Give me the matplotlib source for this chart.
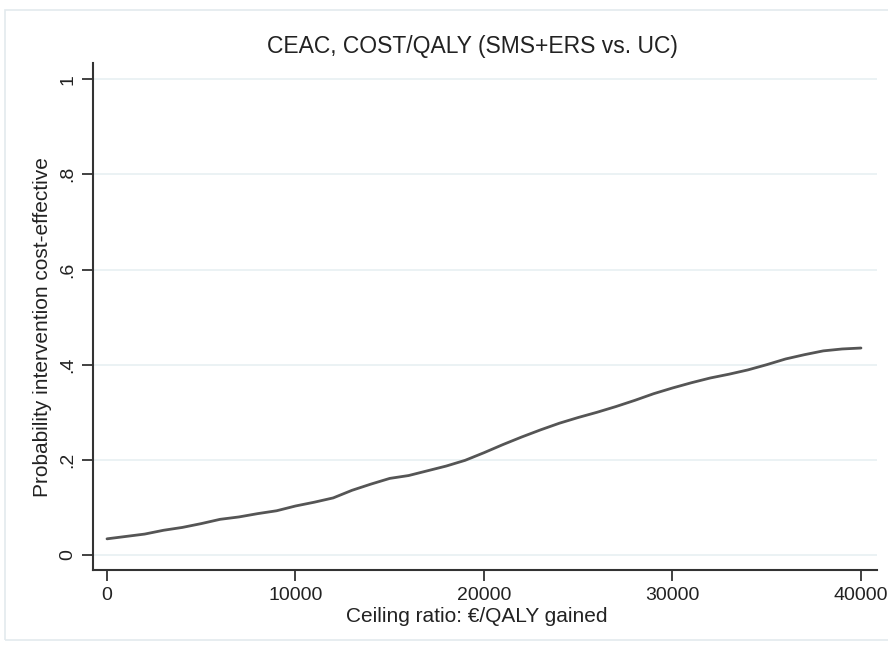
import matplotlib
matplotlib.use("Agg")
import matplotlib.pyplot as plt
from matplotlib.patches import Rectangle

plt.rcParams['font.family'] = ['Liberation Sans', 'DejaVu Sans']

# Ceiling ratio (EUR per QALY) and probability the intervention is cost-effective
ceiling = [0, 1000, 2000, 3000, 4000, 5000, 6000, 7000, 8000, 9000, 10000,
           11000, 12000, 13000, 14000, 15000, 16000, 17000, 18000, 19000, 20000,
           21000, 22000, 23000, 24000, 25000, 26000, 27000, 28000, 29000, 30000,
           31000, 32000, 33000, 34000, 35000, 36000, 37000, 38000, 39000, 40000]
prob = [0.034, 0.039, 0.044, 0.052, 0.058, 0.066, 0.075, 0.080, 0.087, 0.093, 0.103,
        0.111, 0.120, 0.136, 0.149, 0.161, 0.167, 0.177, 0.187, 0.199, 0.215,
        0.232, 0.248, 0.263, 0.277, 0.289, 0.300, 0.312, 0.325, 0.339, 0.351,
        0.362, 0.372, 0.380, 0.389, 0.400, 0.412, 0.421, 0.429, 0.433, 0.435]

x_ticks = [0, 10000, 20000, 30000, 40000]
y_ticks = [0, 0.2, 0.4, 0.6, 0.8, 1.0]
y_tick_labels = ['0', '.2', '.4', '.6', '.8', '1']

W, H = 888, 653
fig = plt.figure(figsize=(W / 100, H / 100), dpi=100)
fig.patch.set_facecolor('white')

# light outer frame around the graph region
fig.patches.append(Rectangle((5 / W, 13 / H), 1.0, 630 / H,
                             transform=fig.transFigure, fill=False,
                             edgecolor='#e3eaed', linewidth=1.2))

ax = fig.add_axes([93 / W, 1 - 570 / H, (877 - 93) / W, (570 - 63) / H])
ax.plot(ceiling, prob, color='#555555', linewidth=2.0, solid_capstyle='round')

ax.set_xlim(-743, 40850)
ax.set_ylim(-0.0315, 1.034)

ax.set_xticks(x_ticks)
ax.set_xticklabels([str(v) for v in x_ticks], fontsize=14, color='#222222')
ax.set_yticks(y_ticks)
ax.set_yticklabels(y_tick_labels, fontsize=14, color='#222222',
                   rotation=90, va='center')

ax.grid(axis='y', color='#e8f0f2', linewidth=1.2)
ax.grid(axis='x', visible=False)
ax.set_axisbelow(True)

for side in ('top', 'right'):
    ax.spines[side].set_visible(False)
for side in ('left', 'bottom'):
    ax.spines[side].set_color('#333333')
    ax.spines[side].set_linewidth(1.5)

ax.tick_params(axis='both', length=8, width=1.3, color='#333333', pad=4)

fig.text(472 / W, 1 - 47 / H, 'CEAC, COST/QALY (SMS+ERS vs. UC)',
         fontsize=16.5, color='#222222', ha='center', va='center')
fig.text(477 / W, 1 - 616 / H, 'Ceiling ratio: €/QALY gained',
         fontsize=15, color='#222222', ha='center', va='center')
fig.text(42 / W, 1 - 327 / H, 'Probability intervention cost-effective',
         fontsize=15, color='#222222', ha='center', va='center', rotation=90)

fig.savefig('out.png', dpi=100)
